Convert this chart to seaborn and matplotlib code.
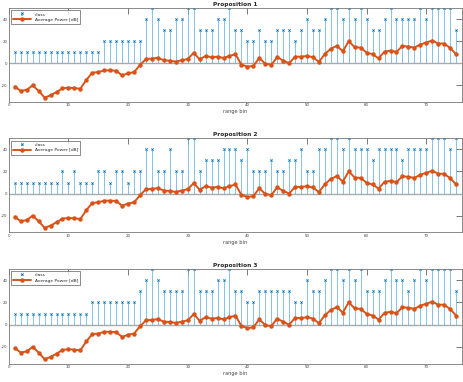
import matplotlib
matplotlib.use("Agg")
import matplotlib.pyplot as plt
import seaborn as sns
import pandas as pd

# range bins 1..75
range_bin = list(range(1, 76))

avg_power = [-21, -25, -24, -20, -25, -31, -29, -26, -22.7, -22,
             -22.5, -23, -15, -8.5, -8, -6.4, -6.4, -6.7, -11, -9,
             -8, -1.5, 3.9, 4.3, 4.9, 2.7, 2.4, 1.5, 2.7, 3.9,
             9.4, 3.6, 6.6, 5.4, 6, 4.8, 6.6, 8.2, -1.2, -3,
             -2.4, 4.8, -0.3, -1.4, 5.5, 2.5, 0, 6, 6, 6.6,
             5.5, 1.3, 8.5, 13.2, 15.8, 10.9, 20, 14.5, 14.2, 9.7,
             8.2, 4.5, 10.6, 11.5, 10.3, 15.7, 15.1, 14.2, 17, 18.8,
             20.6, 17.9, 17.9, 13.9, 8.2]

class_p1 = [10] * 15 + [20] * 7 + [
    40, 50, 40, 30, 30, 40, 40, 50, 50, 30,
    30, 30, 40, 40, 50, 30, 30, 20, 20, 30,
    20, 20, 30, 30, 30, 20, 30, 40, 30, 30,
    40, 50, 50, 40, 50, 40, 50, 40, 30, 30,
    40, 50, 40, 40, 40, 40, 50, 40, 50, 50,
    50, 50, 30]

class_p2 = [10, 10, 10, 10, 10, 10, 10, 10, 20, 10,
            20, 10, 10, 10, 20, 20, 10, 20, 20, 10,
            20, 20, 40, 40, 20, 20, 40, 20, 20, 50,
            50, 20, 30, 30, 30, 40, 40, 40, 30, 40,
            20, 20, 20, 30, 20, 20, 30, 30, 40, 20,
            20, 40, 40, 50, 50, 40, 50, 40, 40, 40,
            30, 40, 40, 40, 40, 30, 40, 40, 40, 40,
            50, 50, 50, 40, 50]

class_p3 = [10] * 13 + [20] * 8 + [
    30, 40, 50, 40, 30, 30, 30, 30, 50, 50,
    30, 30, 30, 40, 40, 50, 30, 30, 20, 20,
    30, 30, 30, 30, 30, 30, 20, 20, 40, 30,
    30, 40, 50, 50, 40, 50, 40, 50, 30, 30,
    30, 40, 50, 40, 40, 30, 40, 50, 40, 50,
    50, 50, 50, 30]

titles = ["Proposition 1", "Proposition 2", "Proposition 3"]
classes = [class_p1, class_p2, class_p3]

sns.set_style("white")
plt.rcParams['font.family'] = ['DejaVu Sans']
plt.rcParams['axes.unicode_minus'] = False

fig = plt.figure(figsize=(4.63, 3.82), dpi=100)
positions = [[0.019, 0.733, 0.979, 0.246],
             [0.019, 0.392, 0.979, 0.246],
             [0.019, 0.048, 0.979, 0.248]]

for pos, title, cls in zip(positions, titles, classes):
    ax = fig.add_axes(pos)
    df = pd.DataFrame({"range bin": range_bin, "class": cls, "power": avg_power})

    ax.axhline(0, color="#aaaaaa", lw=1.0, zorder=1)
    stem = ax.stem(df["range bin"], df["class"], linefmt="-", markerfmt="x",
                   basefmt=" ", label="class")
    stem.stemlines.set_color("#5aaee0")
    stem.stemlines.set_linewidth(0.7)
    stem.stemlines.set_alpha(0.75)
    stem.markerline.set_color("#0072BD")
    stem.markerline.set_markersize(1.6)
    stem.markerline.set_markeredgewidth(0.6)

    sns.lineplot(data=df, x="range bin", y="power", ax=ax, color="#D95319",
                 lw=1.4, marker="o", markersize=3.2, markeredgewidth=0,
                 label="Average Power [dB]")

    ax.set_xlim(0, 76)
    ax.set_ylim(-35, 50)
    ax.set_xticks(range(0, 71, 10))
    ax.set_yticks([-20, 0, 20, 40])
    ax.tick_params(direction="in", top=True, right=True, length=4, width=0.5,
                   labelsize=2.9, pad=1.0, colors="#444444")
    for s in ax.spines.values():
        s.set_color("#777777")
        s.set_linewidth(0.6)
    ax.set_ylabel("")
    ax.set_xlabel("range bin", fontsize=3.6, labelpad=1.5, color="#444444")
    ax.set_title(title, fontsize=4.2, fontweight="bold", pad=1.5)

    handles, labels = ax.get_legend_handles_labels()
    order = [labels.index("class"), labels.index("Average Power [dB]")]
    leg = ax.legend([handles[i] for i in order], [labels[i] for i in order],
                    loc="upper left", fontsize=3.2, frameon=True, fancybox=False,
                    borderpad=0.5, handlelength=4, labelspacing=0.3)
    leg.get_frame().set_edgecolor("#555555")
    leg.get_frame().set_linewidth(0.6)

fig.savefig("out.png", dpi=100)
